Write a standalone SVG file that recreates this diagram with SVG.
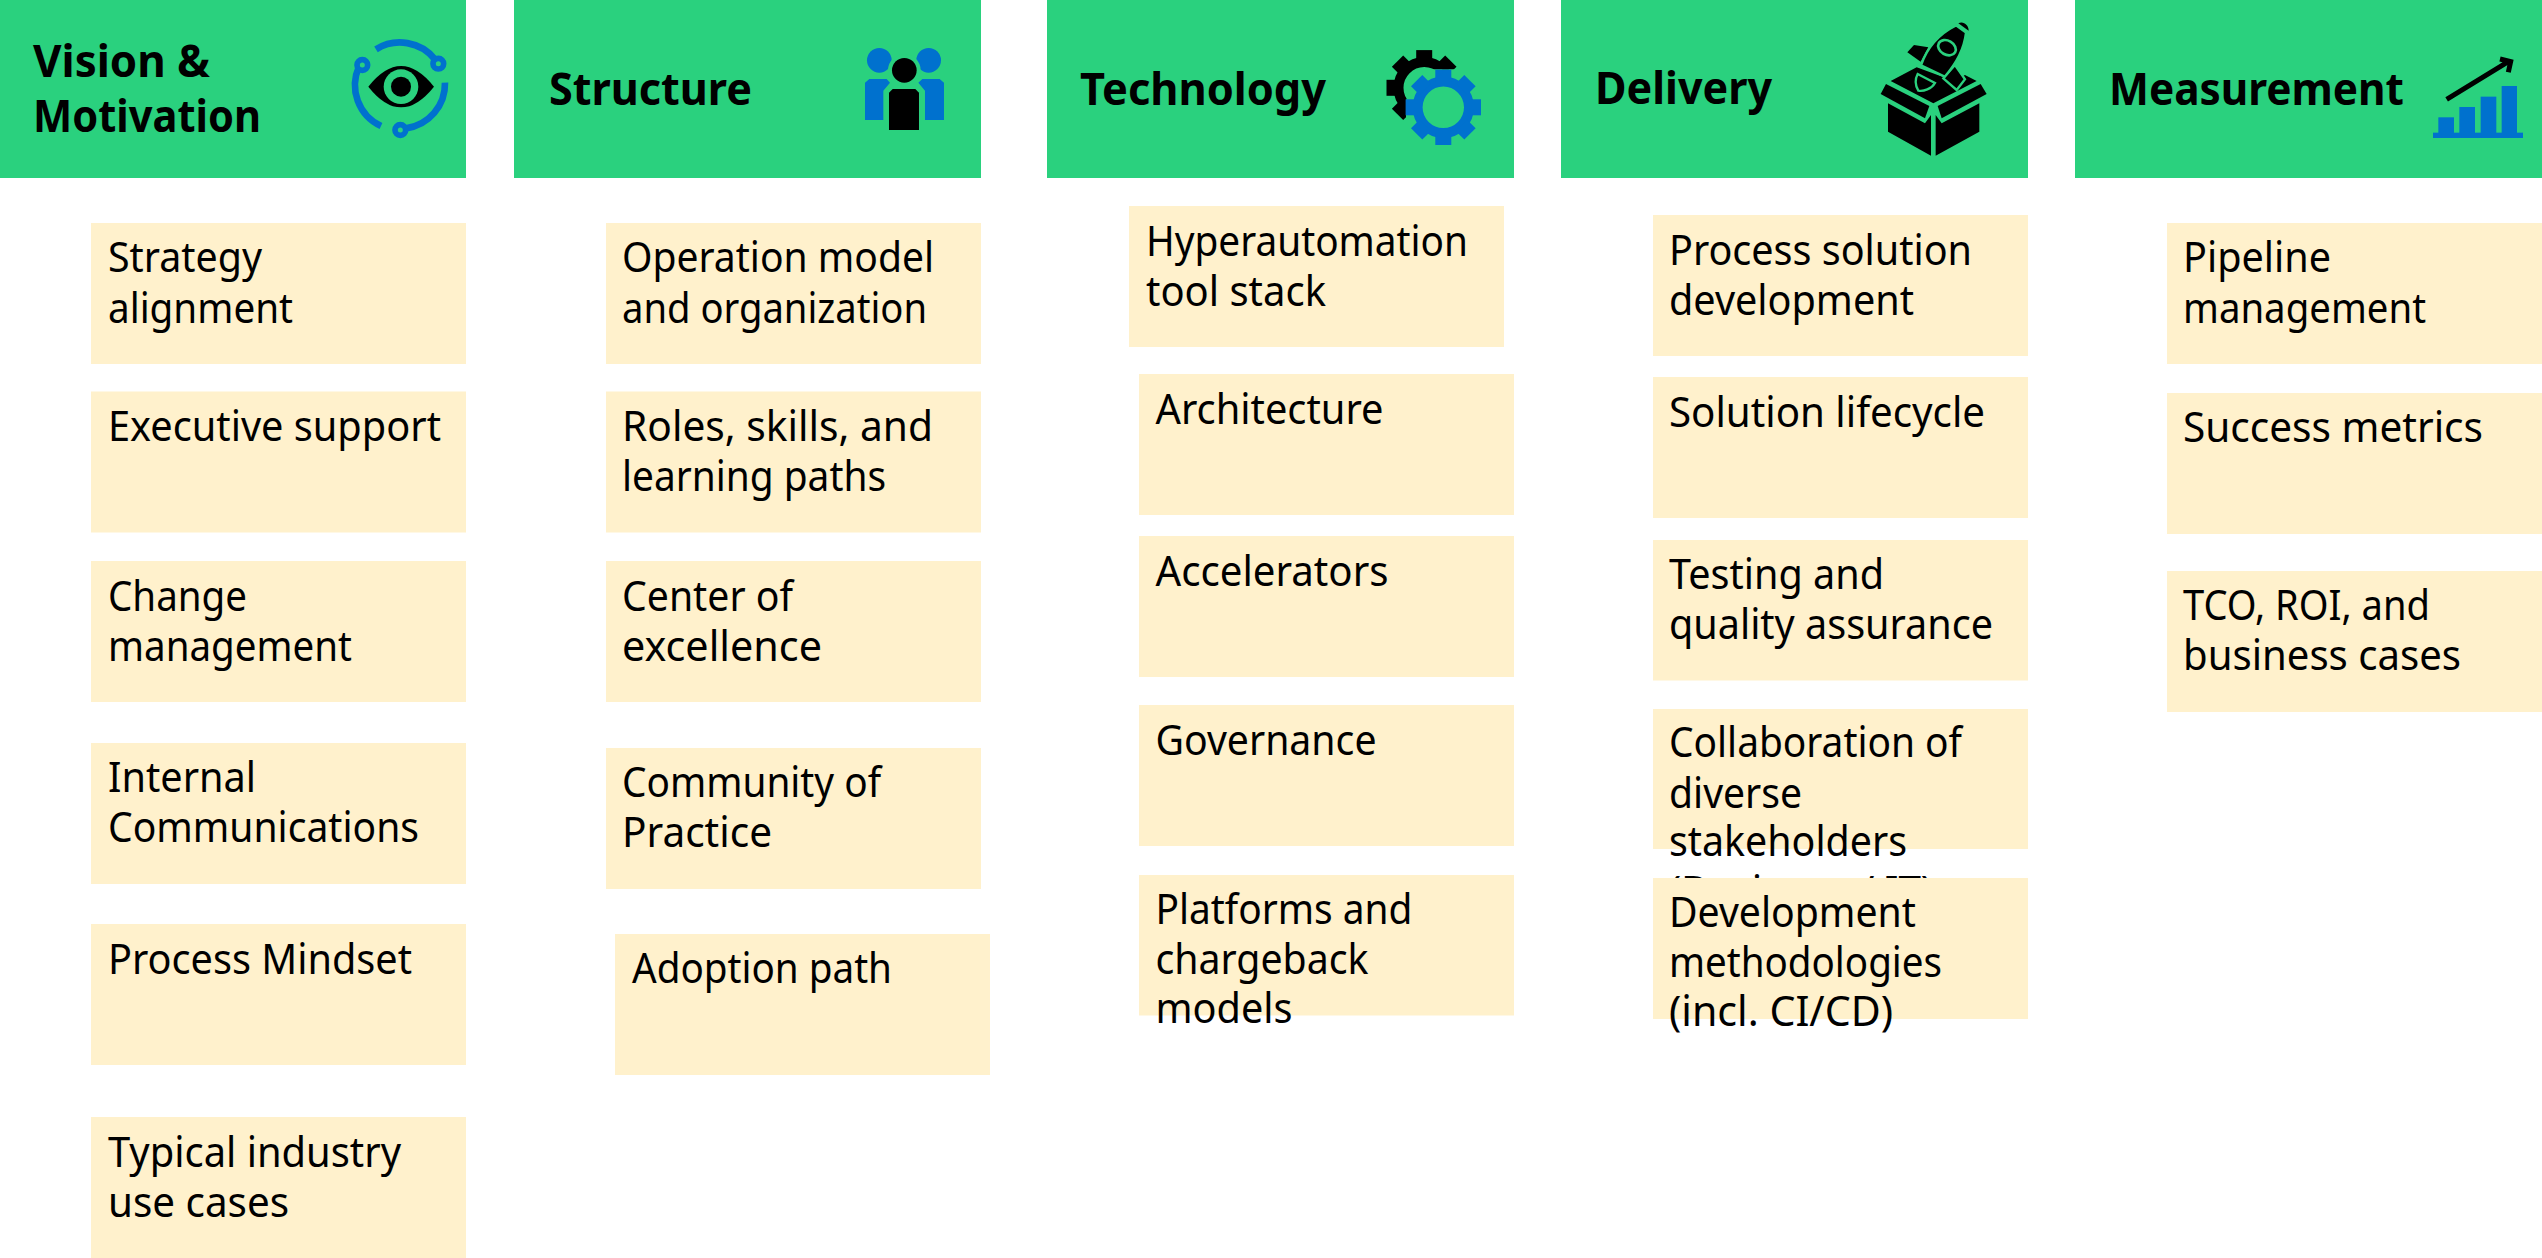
<svg xmlns="http://www.w3.org/2000/svg" width="2542" height="1258" viewBox="0 0 2542 1258">
<style>
.h{fill:#2AD17E}
.b{fill:#FFF1CC}
.k{fill:#000}
.u{fill:#0071CE}
.g{fill:#2AD17E}
text{fill:#000;font-family:"Noto Sans","Open Sans","Liberation Sans",sans-serif}
.t{font-size:41px}
.ht{font-size:44px;font-weight:700}
</style>
<defs>
<g id="gear">
<circle cx="0" cy="0" r="25.7" fill="none" stroke="currentColor" stroke-width="10"/>
<g fill="currentColor">
<rect x="-8" y="-37.7" width="16" height="12"/>
<rect x="-8" y="-37.7" width="16" height="12" transform="rotate(45)"/>
<rect x="-8" y="-37.7" width="16" height="12" transform="rotate(90)"/>
<rect x="-8" y="-37.7" width="16" height="12" transform="rotate(135)"/>
<rect x="-8" y="-37.7" width="16" height="12" transform="rotate(180)"/>
<rect x="-8" y="-37.7" width="16" height="12" transform="rotate(225)"/>
<rect x="-8" y="-37.7" width="16" height="12" transform="rotate(270)"/>
<rect x="-8" y="-37.7" width="16" height="12" transform="rotate(315)"/>
</g>
</g>
<clipPath id="gearclip"><polygon points="1380,40 1462,40 1462,69.3 1424,69.3 1406,100 1406,125 1380,125"/></clipPath>
</defs>
<rect width="2542" height="1258" fill="#fff"/>

<g id="header-vision">
<rect class="h" x="-1" y="0" width="467" height="178"/>
<text class="ht" x="33" y="77" textLength="177" lengthAdjust="spacingAndGlyphs">Vision &amp;</text>
<text class="ht" x="33" y="132" textLength="228" lengthAdjust="spacingAndGlyphs">Motivation</text>
<g transform="translate(320 20) scale(.3333)" fill="none" stroke="#0071CE" stroke-width="20">
<path d="M168 88A135 135 0 0 1 345 118"/>
<path d="M117 140A135 135 0 0 0 183 318"/>
<path d="M375 188A135 135 0 0 1 258 325"/>
<circle cx="127" cy="135" r="16" fill="#2AD17E" stroke-width="17"/>
<circle cx="355" cy="131" r="16" fill="#2AD17E" stroke-width="17"/>
<circle cx="241" cy="330" r="16" fill="#2AD17E" stroke-width="17"/>
<path d="M145 200Q243 76 342 200Q243 324 145 200Z" fill="#000" stroke="none"/>
<circle cx="243" cy="200" r="52" fill="#2AD17E" stroke="none"/>
<circle cx="243" cy="200" r="30" fill="#000" stroke="none"/>
</g>
</g>

<g id="header-structure">
<rect class="h" x="514" y="0" width="467" height="178"/>
<text class="ht" x="549" y="105" textLength="203" lengthAdjust="spacingAndGlyphs">Structure</text>
<g transform="translate(840 30) scale(.3333)">
<circle class="u" cx="118" cy="91" r="37"/>
<circle class="u" cx="266" cy="91" r="37"/>
<circle class="g" cx="193" cy="121" r="49"/>
<circle class="k" cx="193" cy="121" r="37"/>
<polygon class="u" points="75,158 88,147 140,147 150,158 130,182 130,270 75,270"/>
<polygon class="u" points="312,158 299,147 247,147 235,158 255,182 255,270 312,270"/>
<polygon class="k" points="147,188 158,177 226,177 237,188 237,300 147,300"/>
</g>
</g>

<g id="header-technology">
<rect class="h" x="1047" y="0" width="467" height="178"/>
<text class="ht" x="1080" y="105" textLength="246" lengthAdjust="spacingAndGlyphs">Technology</text>
<g clip-path="url(#gearclip)"><use href="#gear" x="1424.2" y="87.8" color="#000"/></g>
<use href="#gear" x="1443.3" y="107.3" color="#0071CE"/>
</g>

<g id="header-delivery">
<rect class="h" x="1561" y="0" width="467" height="178"/>
<text class="ht" x="1595" y="104" textLength="177" lengthAdjust="spacingAndGlyphs">Delivery</text>
<g transform="translate(1870 10) scale(.3333)">
<polygon class="k" points="62,213 140,172 250,212 285,195 320,213 190,280"/>
<polygon class="k" points="112,127 132,105 175,112 152,155"/>
<polygon class="k" points="255,165 285,208 260,240 220,205" stroke="#2AD17E" stroke-width="7"/>
<path class="k" d="M258 46L288 68C282 120 255 165 224 200L153 166C172 110 210 70 258 46Z" stroke="#2AD17E" stroke-width="7"/>
<path class="k" d="M265 40C280 32 296 45 296 62Z"/>
<ellipse cx="231" cy="113" rx="28" ry="21" transform="rotate(30 231 113)" fill="#000" stroke="#2AD17E" stroke-width="8"/>
<polygon class="k" points="148,176 210,208 202,220 142,190"/>
<path class="k" d="M143 192L195 219C185 237 160 245 145 242C135 225 135 207 143 192Z" stroke="#2AD17E" stroke-width="7"/>
<polygon class="k" points="54,280 165,340 183,315 183,437 54,365"/>
<polygon class="k" points="197,437 197,315 215,340 328,280 328,365"/>
<polygon class="k" points="48,222 178,288 165,325 32,252"/>
<polygon class="k" points="332,222 203,288 215,325 350,252"/>
</g>
</g>

<g id="header-measurement">
<rect class="h" x="2075" y="0" width="467" height="178"/>
<text class="ht" x="2109" y="105" textLength="295" lengthAdjust="spacingAndGlyphs">Measurement</text>
<g transform="translate(2420 40) scale(.3333)">
<rect class="u" x="55" y="232" width="47" height="50"/>
<rect class="u" x="118" y="201" width="47" height="80"/>
<rect class="u" x="182" y="170" width="47" height="110"/>
<rect class="u" x="245" y="138" width="46" height="142"/>
<rect class="u" x="39" y="278" width="270" height="16"/>
<path d="M80 178L265 65M240 57L272 65L265 97" fill="none" stroke="#000" stroke-width="15"/>
</g>
</g>

<g id="node-strategy"><rect class="b" x="91" y="223" width="375" height="141"/>
<text class="t" x="108" y="272" textLength="154" lengthAdjust="spacingAndGlyphs">Strategy</text>
<text class="t" x="108" y="323" textLength="185" lengthAdjust="spacingAndGlyphs">alignment</text></g>
<g id="node-executive"><rect class="b" x="91" y="391.5" width="375" height="141"/>
<text class="t" x="108" y="441" textLength="333" lengthAdjust="spacingAndGlyphs">Executive support</text></g>
<g id="node-change"><rect class="b" x="91" y="561" width="375" height="141"/>
<text class="t" x="108" y="610.5" textLength="139" lengthAdjust="spacingAndGlyphs">Change</text>
<text class="t" x="108" y="660.5" textLength="244" lengthAdjust="spacingAndGlyphs">management</text></g>
<g id="node-internal"><rect class="b" x="91" y="743" width="375" height="141"/>
<text class="t" x="108" y="792" textLength="148" lengthAdjust="spacingAndGlyphs">Internal</text>
<text class="t" x="108" y="842" textLength="311" lengthAdjust="spacingAndGlyphs">Communications</text></g>
<g id="node-process-mindset"><rect class="b" x="91" y="924" width="375" height="141"/>
<text class="t" x="108" y="973.5" textLength="304" lengthAdjust="spacingAndGlyphs">Process Mindset</text></g>
<g id="node-usecases"><rect class="b" x="91" y="1117" width="375" height="141"/>
<text class="t" x="108" y="1166.5" textLength="293" lengthAdjust="spacingAndGlyphs">Typical industry</text>
<text class="t" x="108" y="1216.5" textLength="181" lengthAdjust="spacingAndGlyphs">use cases</text></g>

<g id="node-operation"><rect class="b" x="606" y="223" width="375" height="141"/>
<text class="t" x="622" y="272" textLength="312" lengthAdjust="spacingAndGlyphs">Operation model</text>
<text class="t" x="622" y="323" textLength="305" lengthAdjust="spacingAndGlyphs">and organization</text></g>
<g id="node-roles"><rect class="b" x="606" y="391.5" width="375" height="141"/>
<text class="t" x="622" y="441" textLength="311" lengthAdjust="spacingAndGlyphs">Roles, skills, and</text>
<text class="t" x="622" y="491" textLength="264" lengthAdjust="spacingAndGlyphs">learning paths</text></g>
<g id="node-coe"><rect class="b" x="606" y="561" width="375" height="141"/>
<text class="t" x="622" y="610.5" textLength="171" lengthAdjust="spacingAndGlyphs">Center of</text>
<text class="t" x="622" y="660.5" textLength="200" lengthAdjust="spacingAndGlyphs">excellence</text></g>
<g id="node-cop"><rect class="b" x="606" y="748" width="375" height="141"/>
<text class="t" x="622" y="797" textLength="259" lengthAdjust="spacingAndGlyphs">Community of</text>
<text class="t" x="622" y="847" textLength="150" lengthAdjust="spacingAndGlyphs">Practice</text></g>
<g id="node-adoption"><rect class="b" x="615" y="934" width="375" height="141"/>
<text class="t" x="632" y="983" textLength="260" lengthAdjust="spacingAndGlyphs">Adoption path</text></g>

<g id="node-hyper"><rect class="b" x="1129" y="206" width="375" height="141"/>
<text class="t" x="1146" y="255.5" textLength="322" lengthAdjust="spacingAndGlyphs">Hyperautomation</text>
<text class="t" x="1146" y="305.5" textLength="180" lengthAdjust="spacingAndGlyphs">tool stack</text></g>
<g id="node-architecture"><rect class="b" x="1139" y="374" width="375" height="141"/>
<text class="t" x="1155.5" y="424" textLength="228" lengthAdjust="spacingAndGlyphs">Architecture</text></g>
<g id="node-accelerators"><rect class="b" x="1139" y="536" width="375" height="141"/>
<text class="t" x="1155.5" y="586" textLength="233" lengthAdjust="spacingAndGlyphs">Accelerators</text></g>
<g id="node-governance"><rect class="b" x="1139" y="705" width="375" height="141"/>
<text class="t" x="1155.5" y="755" textLength="221" lengthAdjust="spacingAndGlyphs">Governance</text></g>
<g id="node-platforms"><rect class="b" x="1139" y="875" width="375" height="140.5"/>
<text class="t" x="1155.5" y="924" textLength="257" lengthAdjust="spacingAndGlyphs">Platforms and</text>
<text class="t" x="1155.5" y="974" textLength="213" lengthAdjust="spacingAndGlyphs">chargeback</text>
<text class="t" x="1155.5" y="1023" textLength="137" lengthAdjust="spacingAndGlyphs">models</text></g>

<g id="node-process-solution"><rect class="b" x="1653" y="215" width="375" height="141"/>
<text class="t" x="1669" y="264.5" textLength="303" lengthAdjust="spacingAndGlyphs">Process solution</text>
<text class="t" x="1669" y="314.5" textLength="245" lengthAdjust="spacingAndGlyphs">development</text></g>
<g id="node-lifecycle"><rect class="b" x="1653" y="377" width="375" height="141"/>
<text class="t" x="1669" y="426.5" textLength="316" lengthAdjust="spacingAndGlyphs">Solution lifecycle</text></g>
<g id="node-testing"><rect class="b" x="1653" y="540" width="375" height="140.5"/>
<text class="t" x="1669" y="589" textLength="215" lengthAdjust="spacingAndGlyphs">Testing and</text>
<text class="t" x="1669" y="639" textLength="324" lengthAdjust="spacingAndGlyphs">quality assurance</text></g>
<g id="node-collaboration"><rect class="b" x="1653" y="709" width="375" height="140"/>
<text class="t" x="1669" y="757" textLength="293" lengthAdjust="spacingAndGlyphs">Collaboration of</text>
<text class="t" x="1669" y="807.5" textLength="133" lengthAdjust="spacingAndGlyphs">diverse</text>
<text class="t" x="1669" y="856" textLength="238" lengthAdjust="spacingAndGlyphs">stakeholders</text>
<text class="t" x="1669" y="906" textLength="264" lengthAdjust="spacingAndGlyphs">(Business / IT)</text></g>
<g id="node-methodologies"><rect class="b" x="1653" y="878" width="375" height="141"/>
<text class="t" x="1669" y="927" textLength="247" lengthAdjust="spacingAndGlyphs">Development</text>
<text class="t" x="1669" y="977" textLength="273" lengthAdjust="spacingAndGlyphs">methodologies</text>
<text class="t" x="1669" y="1026" textLength="224" lengthAdjust="spacingAndGlyphs">(incl. CI/CD)</text></g>

<g id="node-pipeline"><rect class="b" x="2167" y="223" width="375" height="141"/>
<text class="t" x="2183" y="272" textLength="148" lengthAdjust="spacingAndGlyphs">Pipeline</text>
<text class="t" x="2183" y="322.5" textLength="243" lengthAdjust="spacingAndGlyphs">management</text></g>
<g id="node-success"><rect class="b" x="2167" y="393" width="375" height="141"/>
<text class="t" x="2183" y="442" textLength="300" lengthAdjust="spacingAndGlyphs">Success metrics</text></g>
<g id="node-tco"><rect class="b" x="2167" y="571" width="375" height="141"/>
<text class="t" x="2183" y="620" textLength="247" lengthAdjust="spacingAndGlyphs">TCO, ROI, and</text>
<text class="t" x="2183" y="670" textLength="278" lengthAdjust="spacingAndGlyphs">business cases</text></g>
</svg>
